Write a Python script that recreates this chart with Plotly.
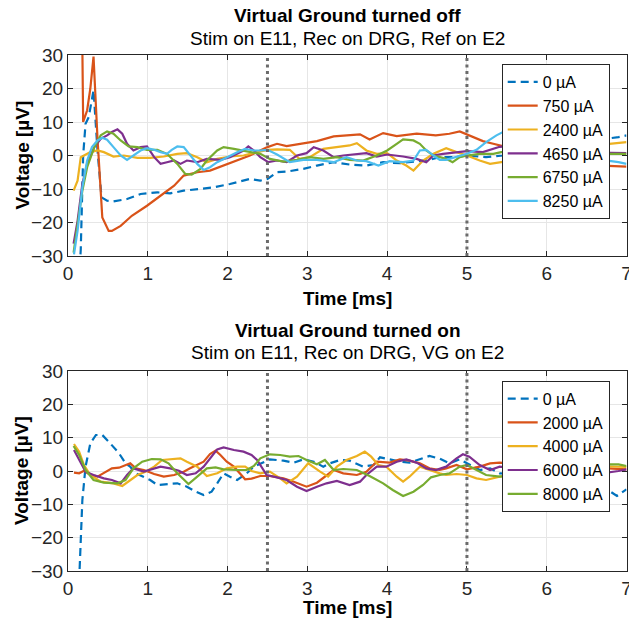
import plotly.graph_objects as go

# --- данные: верхний график (Virtual Ground выключен) ---
off_labels = ['0 µA', '750 µA', '2400 µA', '4650 µA', '6750 µA', '8250 µA']

off_t0 = [0.12, 0.16, 0.19, 0.22, 0.26, 0.32, 0.37, 0.42, 0.49, 0.57, 0.74, 0.91, 1.12, 1.28, 1.45, 1.62, 1.83,
          2.03, 2.28, 2.41, 2.5, 2.62, 2.74, 2.95, 3.12, 3.33, 3.53, 3.74, 3.95, 4.16, 4.37, 4.53, 4.66, 4.85,
          5.0, 5.24, 5.45, 5.7, 6.0, 6.3, 6.6, 6.9, 7.0]
off_v0 = [-45, -28, 0, 9.5, 11.5, 19.5, 1.5, -12.5, -13.5, -13.7, -13, -11.5, -11, -11.3, -10.5, -10, -9.5,
          -8.5, -7, -7.5, -7, -5, -4.8, -4, -3, -2, -2.7, -3, -2, -2.3, -1.7, -1.3, -0.5, -0.5,
          0, -0.5, 0, 1, 2, 3, 4.5, 5.5, 6]

off_t1 = [0.15, 0.18, 0.19, 0.24, 0.28, 0.32, 0.37, 0.43, 0.51, 0.55, 0.66, 0.8, 0.99, 1.16, 1.33, 1.45, 1.62,
          1.78, 1.95, 2.12, 2.28, 2.5, 2.62, 2.74, 2.9, 3.12, 3.33, 3.53, 3.66, 3.78, 3.95, 4.12, 4.37, 4.61,
          4.78, 4.91, 5.03, 5.2, 5.33, 5.5, 5.8, 6.1, 6.4, 6.7, 7.0]
off_v1 = [45, 32, 10, 13.5, 20, 29.5, 5, -18.5, -22.5, -22.5, -21, -18, -15, -12, -9, -6, -5,
          -4.5, -3, -1.5, 0, 2.5, 3.5, 2.8, 3.5, 4.3, 5.7, 6, 6.3, 4.8, 6.7, 5.8, 6.5, 6,
          6.5, 7.2, 6, 4.3, 3.5, 2.5, 1.0, -0.5, -2, -3, -3.3]

off_t2 = [0.07, 0.1, 0.12, 0.16, 0.2, 0.28, 0.37, 0.45, 0.57, 0.7, 0.87, 1.03, 1.2, 1.37, 1.49, 1.62, 1.74,
          1.87, 2.03, 2.2, 2.33, 2.5, 2.62, 2.78, 2.9, 3.03, 3.2, 3.37, 3.53, 3.62, 3.74, 3.87, 4.0, 4.12,
          4.24, 4.33, 4.45, 4.58, 4.74, 4.87, 5.0, 5.16, 5.29, 5.43, 5.7, 6.0, 6.3, 6.6, 6.9, 7.0]
off_v2 = [-10.5, -9, -7.5, -0.5, 0, 1, 1.5, 1, -0.3, 0, -0.7, -0.7, -0.3, 0.5, 0.7, -0.5, -2,
          -1, -0.3, 0, 0.8, 1.7, 1.8, 1.7, -1, -0.5, 2, 2.5, 3, 3.7, 1.5, 0.5, 0.7, -1.5,
          -3, -4.5, -1.5, 0.5, 2.2, 1, 0, -1.5, -2.5, -2, -1, 0.5, 2, 3, 3.7, 4]

off_t3 = [0.07, 0.12, 0.18, 0.24, 0.33, 0.41, 0.49, 0.55, 0.62, 0.68, 0.74, 0.82, 0.91, 0.99, 1.08, 1.16, 1.24,
          1.33, 1.41, 1.49, 1.62, 1.74, 1.91, 2.03, 2.2, 2.26, 2.33, 2.41, 2.51, 2.62, 2.74, 2.87, 2.99, 3.08,
          3.2, 3.33, 3.45, 3.62, 3.74, 3.87, 4.0, 4.2, 4.37, 4.49, 4.58, 4.7, 4.85, 5.0, 5.2, 5.41, 5.6,
          5.9, 6.2, 6.5, 6.8, 7.0]
off_v3 = [-26.3, -19.5, -8.5, -2.5, 2.5, 5, 6, 7, 7.8, 6.5, 3.5, 1.5, 2.5, 2.7, -0.5, -2.5, -2,
          -1.5, -2.5, -1.5, -2, -1, -1.3, -0.5, 1.5, 2.7, 1.5, -0.5, -2, -1.5, -2, 0, 0.7, 2.5,
          1.5, -0.5, 0, 0.3, 0.7, -0.3, 0.3, -0.3, -1, -2, 0, 0.5, 1, 1.3, 1, 2.6, 3,
          2, 1.5, 1, 0.8, 0.7]

off_t4 = [0.07, 0.12, 0.18, 0.24, 0.33, 0.41, 0.49, 0.57, 0.66, 0.76, 0.87, 0.99, 1.12, 1.24, 1.37, 1.47, 1.55,
          1.66, 1.74, 1.87, 1.95, 2.08, 2.2, 2.33, 2.41, 2.53, 2.7, 2.87, 3.03, 3.2, 3.37, 3.53, 3.7, 3.87,
          4.0, 4.12, 4.2, 4.33, 4.41, 4.49, 4.58, 4.66, 4.74, 4.82, 4.91, 5.0, 5.16, 5.33, 5.43, 5.7, 6.0,
          6.3, 6.6, 6.9, 7.0]
off_v4 = [-29, -20.5, -10.5, -3.5, 2.5, 6, 7.2, 6.5, 4.5, 2.7, 2.5, 1.7, 1.7, 0.5, -2.5, -5.5, -5.7,
          -4, -1.5, 1.5, 2.5, 2, 1.5, 1, 0.5, -1, -1.8, -1.3, -0.5, -1, -0.5, -1.3, -1.5, 0,
          1.5, 3.5, 4.8, 4.5, 3.5, 1.5, 0, -0.5, -1, -2, -0.5, 0, 0.5, 0.5, 1, 1.5, 1,
          0, 0.5, 0.5, 0.5]

off_t5 = [0.075, 0.12, 0.18, 0.24, 0.3, 0.37, 0.43, 0.49, 0.57, 0.66, 0.74, 0.82, 0.91, 0.99, 1.08, 1.16, 1.24,
          1.3, 1.37, 1.45, 1.53, 1.62, 1.7, 1.78, 1.87, 1.99, 2.12, 2.22, 2.33, 2.41, 2.5, 2.62, 2.78, 2.95,
          3.12, 3.33, 3.49, 3.62, 3.74, 3.89, 4.03, 4.2, 4.33, 4.41, 4.49, 4.58, 4.66, 4.74, 4.87, 5.0, 5.12,
          5.24, 5.37, 5.45, 5.7, 6.0, 6.3, 6.6, 6.9, 7.0]
off_v5 = [-29.5, -22.5, -9.5, -1.5, 2.5, 4.5, 5.3, 4.7, 2.5, 0, -1.3, 0, 1.5, 2.2, 1.7, 1, 0.5,
          1.7, 2.7, 2.5, 0, -2.5, -4.3, -3.5, -2, -0.5, 1, 2, 1.5, 1.5, 1.7, 0.3, -2, -1.3,
          -1.3, -2, -0.5, -1.5, -1.7, -3, -1.7, -2, -1.5, 1.5, 1.7, 0, -1.3, -1.3, -0.5, 0.5, 1.7,
          4, 6, 7, 6, 3, 0.5, -1, -2, -2.5]

# --- данные: нижний график (Virtual Ground включен) ---
on_labels = ['0 µA', '2000 µA', '4000 µA', '6000 µA', '8000 µA']

on_t0 = [0.12, 0.14, 0.16, 0.18, 0.22, 0.28, 0.35, 0.43, 0.51, 0.64, 0.72, 0.78, 0.85, 0.95, 1.03, 1.12, 1.24,
         1.37, 1.49, 1.6, 1.7, 1.8, 1.87, 1.95, 2.03, 2.12, 2.24, 2.33, 2.53, 2.7, 2.83, 2.95, 3.08, 3.2,
         3.28, 3.41, 3.53, 3.7, 3.83, 3.91, 4.03, 4.16, 4.28, 4.41, 4.53, 4.66, 4.78, 4.91, 5.0, 5.16, 5.29,
         5.41, 5.7, 6.0, 6.3, 6.6, 6.88, 7.0]
on_v0 = [-45, -32, -18.7, -8.7, 1.3, 8.3, 10.8, 10.8, 8.8, 5.3, 2.3, 1.3, -0.7, -1.7, -2.7, -4.2, -3.9,
         -3.7, -4.7, -6.2, -7.2, -6.2, -3.7, -0.7, -1.7, -2.7, -0.7, 1.3, 3.5, 3.1, 2.5, 3.5, 2.8, 1.3,
         2.3, 3.3, 3.1, 1.3, 1.8, 4.1, 3.5, 2.8, 2.5, 3.5, 4.5, 3.7, 2.3, 3.5, 2.3, 0.3, 0.8,
         -0.7, -1, 0, -1, -3, -7.5, -5.5]

on_t1 = [0.075, 0.14, 0.2, 0.26, 0.37, 0.47, 0.55, 0.64, 0.72, 0.78, 0.85, 0.95, 1.08, 1.2, 1.33, 1.45, 1.53,
         1.62, 1.7, 1.78, 1.85, 1.91, 1.99, 2.08, 2.16, 2.22, 2.3, 2.41, 2.53, 2.7, 2.83, 2.99, 3.12, 3.24,
         3.33, 3.45, 3.62, 3.74, 3.87, 4.03, 4.16, 4.28, 4.41, 4.53, 4.66, 4.74, 4.87, 5.0, 5.16, 5.29, 5.41,
         5.7, 6.0, 6.3, 6.6, 6.9, 7.0]
on_v1 = [-0.5, -0.7, 0.1, -0.9, -1.7, -0.2, 0.8, 1, 1.8, 2.3, 0.8, 0.3, -0.9, -1.7, -1.2, -0.2, 0.8,
         1.8, 2.8, 5.1, 6.1, 4.8, 2.8, 1.3, -0.7, -2.5, -2.3, -1.5, -1.5, -2.2, -3.2, -4.7, -3.5, -1.2,
         0.3, -0.7, -1.2, -0.2, 2.8, 2.5, 3.5, 3.1, 2.3, 0.8, 0.3, 0.8, 1.8, 0.5, 1.3, 2.3, 2.5,
         2, 1, 0, 1, 0.5, 0.5]

on_t2 = [0.075, 0.14, 0.2, 0.28, 0.41, 0.57, 0.68, 0.76, 0.87, 0.97, 1.08, 1.18, 1.28, 1.41, 1.49, 1.62, 1.74,
         1.87, 1.99, 2.12, 2.22, 2.3, 2.41, 2.53, 2.66, 2.74, 2.87, 3.01, 3.16, 3.26, 3.37, 3.49, 3.62, 3.72,
         3.8, 3.89, 3.99, 4.12, 4.2, 4.28, 4.41, 4.53, 4.66, 4.74, 4.87, 5.0, 5.12, 5.24, 5.41, 5.7, 6.0,
         6.3, 6.6, 6.9, 7.0]
on_v2 = [8.1, 5.8, 1.8, -1.2, -3.2, -3.7, -4.5, -3.2, -1.2, -0.2, 1.3, 3.3, 3.5, 3.8, 2.8, 1.3, -1.5,
         -0.7, 0.8, 1.3, 1.3, 0, -0.7, -0.2, -2.2, -3.7, -1.7, 2.3, -0.2, -1.7, 1.3, 3.3, 4.5, 5.8,
         4.3, 1.8, 1.3, -1.7, -3.2, -1.7, 1.3, 0.3, -0.7, -1.2, -0.9, -1.2, -2.2, -2.7, -1.7, -1, 0,
         1, 1.5, 1.3, 1.2]

on_t3 = [0.075, 0.14, 0.22, 0.32, 0.45, 0.55, 0.66, 0.74, 0.82, 0.95, 1.03, 1.16, 1.28, 1.39, 1.49, 1.6, 1.7,
         1.78, 1.87, 1.95, 2.08, 2.2, 2.3, 2.37, 2.49, 2.62, 2.74, 2.87, 2.99, 3.12, 3.24, 3.37, 3.53, 3.66,
         3.74, 3.87, 3.99, 4.12, 4.24, 4.37, 4.49, 4.61, 4.74, 4.87, 4.95, 5.03, 5.16, 5.29, 5.41, 5.7, 6.0,
         6.3, 6.6, 6.9, 7.0]
on_v3 = [6.3, 3.3, -0.2, -1.2, -2.2, -2.7, -3.7, -1.2, 0.8, -0.2, 0.3, 1.3, 0.8, 0.1, -1.2, -0.7, 1.3,
         3.8, 6.5, 7.1, 6.3, 5.8, 4.8, 3.3, -1.2, -1.9, -2.7, -4.7, -6, -4.7, -3.7, -3, -4.2, -3.2,
         -1.2, 1.3, 1.3, 2.8, 3.5, 2.5, 0.8, 0.3, 1.3, 3.8, 5, 4.3, 1.8, 0.3, 1.3, 0.5, -1,
         -0.5, -1, 0, 0.5]

on_t4 = [0.07, 0.14, 0.22, 0.32, 0.45, 0.62, 0.72, 0.82, 0.93, 1.05, 1.16, 1.26, 1.37, 1.51, 1.62, 1.74, 1.85,
         1.95, 2.12, 2.24, 2.33, 2.41, 2.53, 2.66, 2.78, 2.89, 2.99, 3.12, 3.22, 3.33, 3.45, 3.62, 3.78, 3.95,
         4.07, 4.2, 4.33, 4.45, 4.55, 4.66, 4.78, 4.91, 5.0, 5.12, 5.24, 5.41, 5.7, 6.0, 6.3, 6.6, 6.9, 7.0]
on_v4 = [7.5, 4.8, 0.3, -2.7, -3.5, -3.7, -2.7, 0.8, 2.8, 3.6, 3.5, 2.3, -0.7, -3.9, -1.7, 0.8, 1.1,
         0.5, 0.3, 0.3, 1.5, 3.8, 5, 4.8, 4.3, 4.5, 3.3, 2, 3.3, 0.3, 0.6, 0.3, -1.5, -3.7,
         -5.7, -7.5, -6.2, -4.2, -1.9, -1.2, -0.7, 1.3, 1.8, 0.3, -1.2, -1.7, -1, 0, 1, 2, 2, 1.5]

# границы окна анализа (вертикальные пунктиры)
window_edges = [2.5, 5.0]

colors = ['#0072BD', '#D95319', '#EDB120', '#7E2F8E', '#77AC30', '#4DBEEE']
FONT = 'Liberation Sans, Arial, Helvetica, sans-serif'

off_series = [(off_t0, off_v0), (off_t1, off_v1), (off_t2, off_v2),
              (off_t3, off_v3), (off_t4, off_v4), (off_t5, off_v5)]
on_series = [(on_t0, on_v0), (on_t1, on_v1), (on_t2, on_v2), (on_t3, on_v3), (on_t4, on_v4)]

fig = go.Figure()

for i, (t, v) in enumerate(off_series):
    fig.add_trace(go.Scatter(x=t, y=v, name=off_labels[i], mode='lines', xaxis='x', yaxis='y',
                             legend='legend',
                             line=dict(color=colors[i], width=2.2, dash='8px,5px' if i == 0 else 'solid')))

for i, (t, v) in enumerate(on_series):
    fig.add_trace(go.Scatter(x=t, y=v, name=on_labels[i], mode='lines', xaxis='x2', yaxis='y2',
                             legend='legend2',
                             line=dict(color=colors[i], width=2.2, dash='8px,5px' if i == 0 else 'solid')))

# вертикальные пунктирные линии на обоих графиках
for xr, yr in [('x', 'y domain'), ('x2', 'y2 domain')]:
    for t in window_edges:
        fig.add_shape(type='line', xref=xr, yref=yr, x0=t, x1=t, y0=0, y1=1,
                      line=dict(color='#6b6b6b', width=3, dash='3px,3.5px'))

axis_style = dict(showline=True, linecolor='#262626', linewidth=1, mirror='ticks',
                  ticks='inside', ticklen=5, tickcolor='#262626', showgrid=True,
                  gridcolor='#e6e6e6', gridwidth=1, zeroline=False, automargin=False,
                  ticklabeloverflow='allow',
                  tickfont=dict(family=FONT, size=19, color='#262626'))

legend_style = dict(xanchor='left', yanchor='top', bgcolor='white', bordercolor='#262626',
                    borderwidth=1, font=dict(family=FONT, size=16, color='#000000'))

xdom = [68 / 629, 626.5 / 629]
fig.update_layout(
    width=629, height=626,
    margin=dict(l=0, r=0, t=0, b=0, autoexpand=False),
    paper_bgcolor='white', plot_bgcolor='white',
    font=dict(family=FONT, color='#000000'),
    xaxis=dict(domain=xdom, range=[0, 7], dtick=1, anchor='y', **axis_style),
    yaxis=dict(domain=[1 - 256 / 626, 1 - 55 / 626], range=[-30, 30], dtick=10, anchor='x', **axis_style),
    xaxis2=dict(domain=xdom, range=[0, 7], dtick=1, anchor='y2', **axis_style),
    yaxis2=dict(domain=[1 - 571 / 626, 1 - 371 / 626], range=[-30, 30], dtick=10, anchor='x2', **axis_style),
    legend=dict(x=501.7 / 629, y=1 - 64 / 626, **legend_style),
    legend2=dict(x=501.7 / 629, y=1 - 380.7 / 626, **legend_style),
)

# заголовки и подписи осей
cx = 347.5 / 629
texts = [
    ('<b>Virtual Ground turned off</b>', cx, 1 - 15 / 626, 0),
    ('Stim on E11, Rec on DRG, Ref on E2', cx, 1 - 38 / 626, 0),
    ('<b>Virtual Ground turned on</b>', cx, 1 - 330 / 626, 0),
    ('Stim on E11, Rec on DRG, VG on E2', cx, 1 - 352 / 626, 0),
    ('<b>Time [ms]</b>', cx, 1 - 298 / 626, 0),
    ('<b>Time [ms]</b>', cx, 1 - 607 / 626, 0),
    ('<b>Voltage [µV]</b>', 22 / 629, 1 - 155.5 / 626, -90),
    ('<b>Voltage [µV]</b>', 22 / 629, 1 - 471 / 626, -90),
]
for txt, x, y, ang in texts:
    fig.add_annotation(text=txt, x=x, y=y, xref='paper', yref='paper', showarrow=False,
                       xanchor='center', yanchor='middle', textangle=ang,
                       font=dict(family=FONT, size=19, color='#000000'))

# убираем стандартный отступ страницы, чтобы график встал ровно в окно
fig.write_html("out.html", config={'displayModeBar': False},
               post_script="document.body.style.margin='0';")
